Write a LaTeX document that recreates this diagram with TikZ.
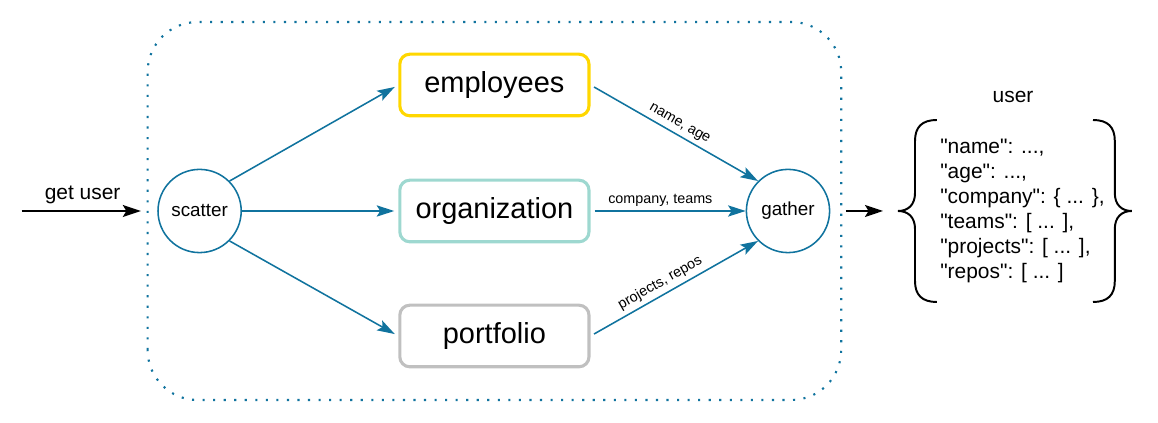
\documentclass[tikz,border=0pt]{standalone}
\usepackage{fontspec}
\setmainfont{Liberation Sans}
\usetikzlibrary{arrows.meta}

\definecolor{flowblue}{HTML}{10739E}
\definecolor{empyellow}{HTML}{FFD700}
\definecolor{orgteal}{HTML}{9ED8D0}
\definecolor{portgray}{HTML}{C0C0C0}

\newcommand{\qt}{\textquotedbl}

\tikzset{
  hub/.style={circle, draw=flowblue, line width=1.1pt, minimum size=2.08cm,
    inner sep=0pt, font=\fontsize{13.4}{16}\selectfont},
  svc/.style={rounded corners=0.25cm, line width=2.2pt, minimum width=4.73cm,
    minimum height=1.54cm, inner sep=0pt, font=\fontsize{20.6}{24}\selectfont},
  flow/.style={flowblue, line width=1.1pt,
    -{Stealth[length=12.5pt,width=8pt,inset=2.5pt]}},
  feed/.style={black, line width=1.4pt,
    -{Stealth[length=12.8pt,width=8.5pt,inset=2.5pt]}},
  flowlabel/.style={text=black, font=\fontsize{10.2}{12}\selectfont, sloped, above,
    inner sep=3pt},
  bigtext/.style={font=\fontsize{14.9}{17.8}\selectfont},
}

\begin{document}
\begin{tikzpicture}
  \useasboundingbox (0, 0) rectangle (28.95, 10.575);

  % dotted frame round the scatter / gather stage
  \draw[flowblue, line width=1.5pt, dash pattern=on 1.5pt off 6pt,
    rounded corners=1.25cm] (3.69, 0.575) rectangle (21.03, 10.025);

  \node[hub] (scatter) at (4.99, 5.3) {scatter};
  \node[hub] (gather) at (19.7, 5.3) {gather};

  \node[svc, draw=empyellow] (employees) at (12.36, 8.45) {employees};
  \node[svc, draw=orgteal] (organization) at (12.36, 5.3) {organization};
  \node[svc, draw=portgray] (portfolio) at (12.36, 2.175) {portfolio};

  \draw[flow, shorten >=0.1cm] (scatter.45) -- (employees.west);
  \draw[flow, shorten >=0.1cm] (scatter.east) -- (organization.west);
  \draw[flow, shorten >=0.1cm] (scatter.-45) -- (portfolio.west);

  \draw[flow, shorten <=0.1cm] (employees.east) -- (gather.135)
    node[flowlabel, pos=0.5] {name, age};
  \draw[flow, shorten <=0.1cm] (organization.east) -- (gather.west)
    node[flowlabel, pos=0.45] {company, teams};
  \draw[flow, shorten <=0.1cm] (portfolio.east) -- (gather.-135)
    node[flowlabel, pos=0.45] {projects, repos};

  % request in, result out
  \coordinate (getin) at (0.54, 5.3);
  \coordinate (lbrace) at (22.45, 5.3);
  \draw[feed, shorten >=0.41cm] (getin) -- (scatter)
    node[bigtext, pos=0.45, above=0.04cm] {get user};
  \draw[feed, shorten <=0.39cm, shorten >=0.375cm] (gather) -- (lbrace);

  \node[bigtext] (user) at (25.325, 8.15) {user};
  \node[bigtext, anchor=west, inner sep=0pt, align=left] (fields) at (23.5, 5.3)
    {\qt name\qt: ...,\\\qt age\qt: ...,\\\qt company\qt: \{ ... \},\\
     \qt teams\qt: [ ... ],\\\qt projects\qt: [ ... ],\\\qt repos\qt: [ ... ]};

  \draw[black, line width=1.4pt]
    (23.42, 7.575) .. controls (23.05, 7.575) and (22.875, 7.4) .. (22.875, 7.05)
    -- (22.875, 5.75) .. controls (22.875, 5.45) and (22.7, 5.3) .. (lbrace)
    .. controls (22.7, 5.3) and (22.875, 5.15) .. (22.875, 4.85)
    -- (22.875, 3.55) .. controls (22.875, 3.2) and (23.05, 3.025) .. (23.42, 3.025);
  \draw[black, line width=1.4pt]
    (27.325, 7.575) .. controls (27.695, 7.575) and (27.87, 7.4) .. (27.87, 7.05)
    -- (27.87, 5.75) .. controls (27.87, 5.45) and (28.045, 5.3) .. (28.295, 5.3)
    .. controls (28.045, 5.3) and (27.87, 5.15) .. (27.87, 4.85)
    -- (27.87, 3.55) .. controls (27.87, 3.2) and (27.695, 3.025) .. (27.325, 3.025);
\end{tikzpicture}
\end{document}
